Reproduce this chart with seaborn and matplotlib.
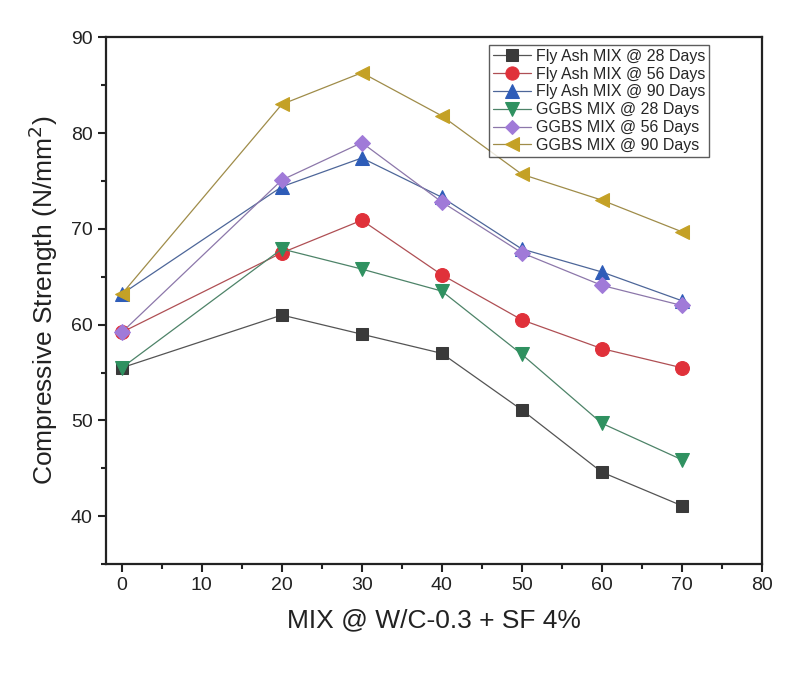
import matplotlib
matplotlib.use("Agg")
import matplotlib.pyplot as plt
import seaborn as sns
import pandas as pd
from matplotlib.ticker import MultipleLocator
from matplotlib.colors import to_rgb

sns.set_style("white")
plt.rcParams['font.family'] = ['Liberation Sans', 'DejaVu Sans']

mix = [0, 20, 30, 40, 50, 60, 70]
series_names = ["Fly Ash MIX @ 28 Days", "Fly Ash MIX @ 56 Days", "Fly Ash MIX @ 90 Days",
                "GGBS MIX @ 28 Days", "GGBS MIX @ 56 Days", "GGBS MIX @ 90 Days"]
fly_ash_28 = [55.5, 61.0, 59.0, 57.0, 51.1, 44.6, 41.1]
fly_ash_56 = [59.2, 67.5, 70.9, 65.2, 60.5, 57.5, 55.5]
fly_ash_90 = [63.2, 74.4, 77.4, 73.3, 67.9, 65.5, 62.5]
ggbs_28 = [55.5, 67.9, 65.8, 63.5, 56.9, 49.7, 45.9]
ggbs_56 = [59.2, 75.1, 79.0, 72.8, 67.5, 64.1, 62.0]
ggbs_90 = [63.2, 83.0, 86.3, 81.8, 75.7, 73.0, 69.7]
values = [fly_ash_28, fly_ash_56, fly_ash_90, ggbs_28, ggbs_56, ggbs_90]

colors = ["#3a3a3a", "#e0313a", "#2e5cb8", "#2f9160", "#a07ad8", "#c4a126"]
markers = ["s", "o", "^", "v", "D", "<"]
msizes = [9, 10, 10, 10, 8, 10]

df = pd.DataFrame({
    "mix": mix * len(series_names),
    "strength": sum(values, []),
    "series": [n for n in series_names for _ in mix],
})


def line_tone(c):
    r, g, b = to_rgb(c)
    grey = 0.45
    return (0.55 * r + 0.45 * grey, 0.55 * g + 0.45 * grey, 0.55 * b + 0.45 * grey)


fig = plt.figure(figsize=(7.96, 6.78), dpi=100)
ax = fig.add_axes([0.133, 0.168, 0.824, 0.777])

for name, c, m, ms in zip(series_names, colors, markers, msizes):
    sub = df[df["series"] == name]
    sns.lineplot(data=sub, x="mix", y="strength", ax=ax, color=line_tone(c), marker=m,
                 markersize=ms, markeredgecolor=c, markerfacecolor=c, linewidth=0.9,
                 label=name)

ax.set_xlim(-2, 80)
ax.set_ylim(35, 90)
ax.xaxis.set_major_locator(MultipleLocator(10))
ax.xaxis.set_minor_locator(MultipleLocator(5))
ax.yaxis.set_minor_locator(MultipleLocator(5))
ax.set_yticks([40, 50, 60, 70, 80, 90])
ax.tick_params(axis="both", which="major", direction="out", length=6, width=1.5,
               labelsize=14, bottom=True, left=True, top=False, right=False, colors="#222222")
ax.tick_params(axis="both", which="minor", direction="out", length=3.5, width=1.5,
               bottom=True, left=True, top=False, right=False, colors="#222222")
for s in ax.spines.values():
    s.set_linewidth(1.6)
    s.set_color("#222222")

ax.set_xlabel("MIX @ W/C-0.3 + SF 4%", fontsize=19, color="#222222", labelpad=10)
ax.set_ylabel("Compressive Strength (N/mm$^2$)", fontsize=19, color="#222222", labelpad=8)

leg = ax.legend(loc="upper right", bbox_to_anchor=(0.92, 0.986), fontsize=11.5,
                frameon=True, fancybox=False, edgecolor="#333333", handlelength=2.4,
                borderpad=0.25, labelspacing=0.18, handletextpad=0.3, borderaxespad=0.0,
                markerscale=0.95)
leg.get_frame().set_linewidth(1.0)

fig.savefig("out.png", dpi=100)
